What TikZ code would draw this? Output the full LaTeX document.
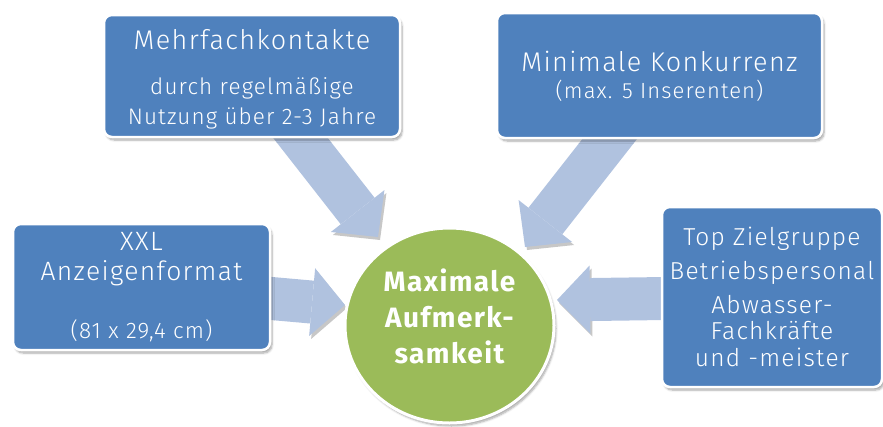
\documentclass[tikz,border=0pt]{standalone}
\usepackage{fontspec}
\setmainfont{Fira Sans}[UprightFont=* Light, BoldFont=* Bold, LetterSpace=5]
\usetikzlibrary{shadows,shadows.blur,shapes.geometric,arrows.meta,backgrounds}
\definecolor{boxblue}{HTML}{4F81BD}
\definecolor{arrowblue}{HTML}{B0C2DF}
\definecolor{circgreen}{HTML}{9BBB59}
\newcommand\padtop[1]{\rule{0pt}{#1}}
\newcommand\padbot[1]{\rule[-#1]{0pt}{#1}}
\tikzset{
  box/.style={draw=white, line width=2.5pt, fill=boxblue, rounded corners=8pt,
    text=white, align=center, inner sep=0pt,
    blur shadow={shadow xshift=2pt, shadow yshift=-3pt, shadow blur steps=6, shadow opacity=35}},
  circ/.style={ellipse, draw=white, line width=3pt, fill=circgreen, text=white,
    align=center, inner sep=0pt,
    blur shadow={shadow xshift=2pt, shadow yshift=-3pt, shadow blur steps=6, shadow opacity=35}},
  bigarrow/.style={draw=arrowblue, line width=43pt,
    -{Triangle[length=33pt, width=68pt, line width=0pt]},
    preaction={draw=black!22, transform canvas={shift={(2pt,-3pt)}}}},
}
\begin{document}
\begin{tikzpicture}[x=1pt, y=-1pt]
\useasboundingbox (0,0) rectangle (883,426);
\node[box, minimum width=296pt, minimum height=122pt,
  font=\fontsize{22.5}{30.6}\selectfont] (b1) at (252,76)
  {\padtop{27pt}{\fontsize{27}{30}\selectfont Mehrfachkontakte}\\[13.8pt]durch regelmäßige\\Nutzung über 2-3 Jahre};
\node[box, minimum width=325pt, minimum height=125pt,
  font=\fontsize{22}{26.7}\selectfont] (b2) at (659.5,75.5)
  {\padtop{22pt}{\fontsize{27}{30}\selectfont Minimale Konkurrenz}\\(max. 5 Inserenten)};
\node[box, minimum width=257pt, minimum height=126pt,
  font=\fontsize{26.5}{30}\selectfont] (b3) at (141.5,287)
  {XXL\\Anzeigenformat\\[28pt]{\fontsize{22.5}{30}\selectfont (81 x 29,4 cm)}};
\node[box, minimum width=220pt, minimum height=180pt,
  font=\fontsize{24.5}{26.8}\selectfont] (b4) at (772,297)
  {Top Zielgruppe\\[7.6pt]Betriebspersonal\\[6.5pt]Abwasser-\\Fachkräfte\\und -meister};
\node[circ, minimum width=209pt, minimum height=195pt,
  font=\fontsize{28}{36}\selectfont\bfseries] (c) at (449.5,325.5)
  {Maximale\\Aufmerk-\\samkeit\padbot{18pt}};
\coordinate (t1) at (378,237);
\coordinate (t2) at (525,247);
\coordinate (t3) at (345,305);
\coordinate (t4) at (557,300);
\begin{scope}[on background layer]
\draw[bigarrow] (b1.center) -- (t1);
\draw[bigarrow] (b2.center) -- (t2);
\draw[bigarrow] (b3.center) -- (t3);
\draw[bigarrow] (b4.center) -- (t4);
\end{scope}
\end{tikzpicture}
\end{document}
